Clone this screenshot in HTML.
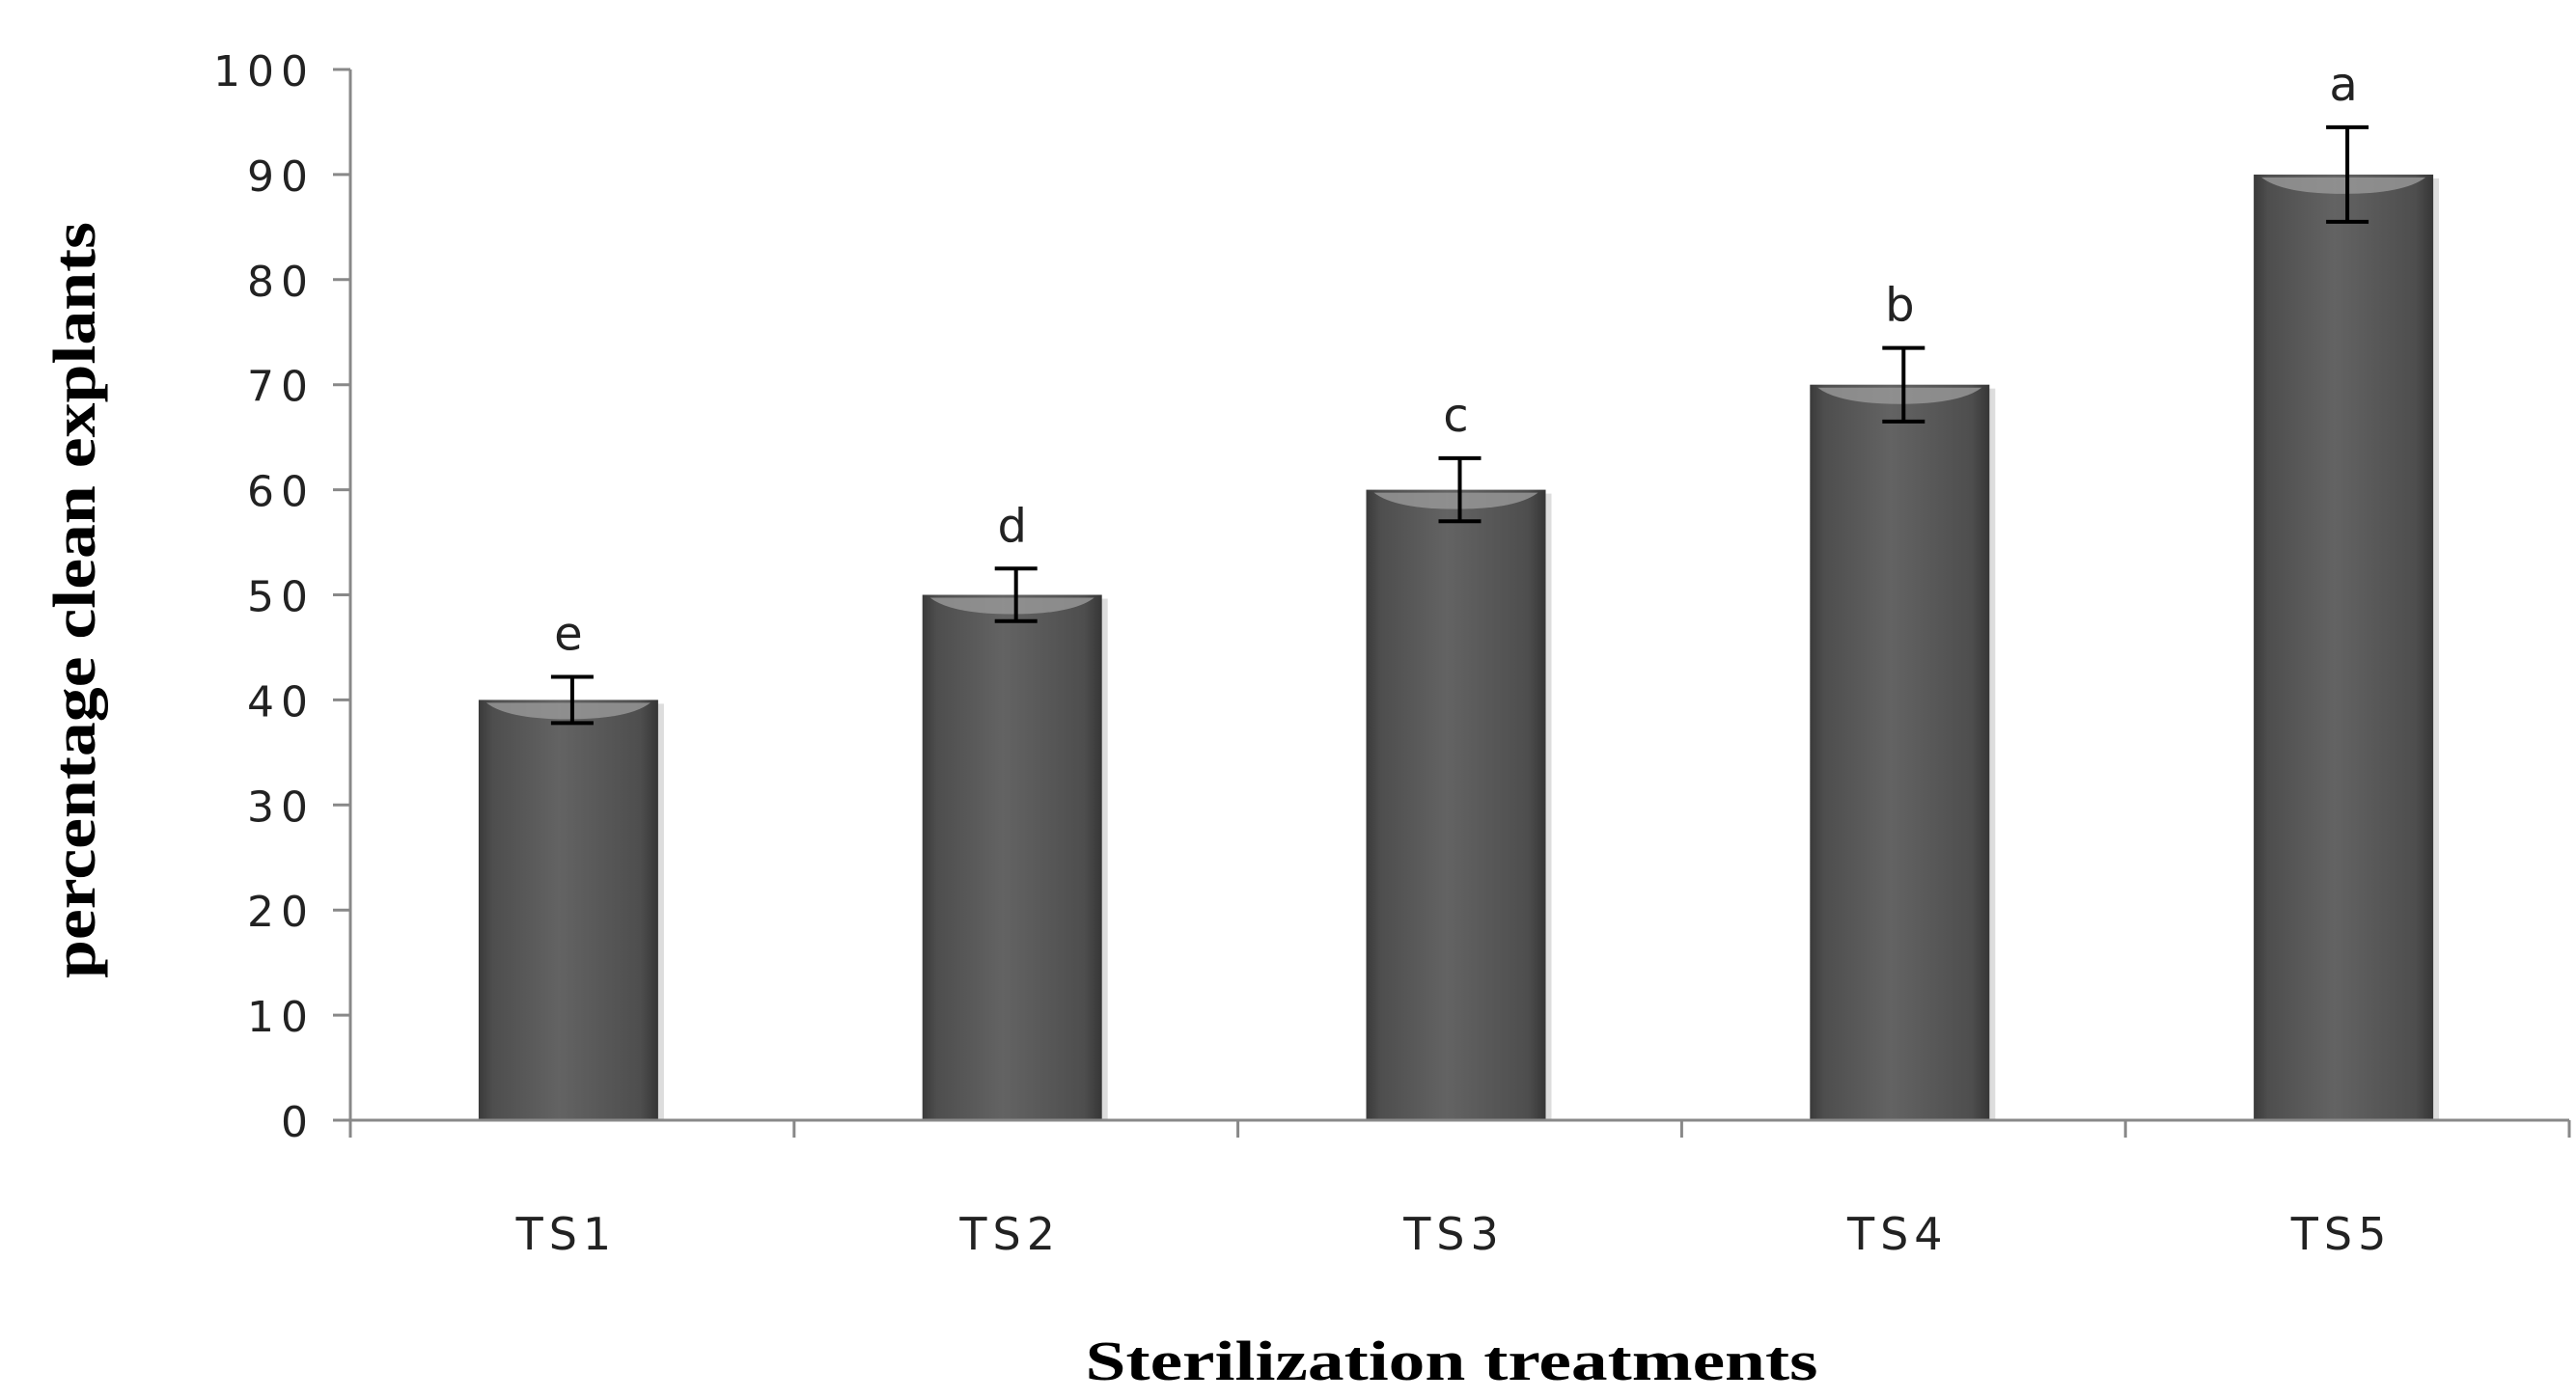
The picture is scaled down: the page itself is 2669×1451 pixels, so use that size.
<!DOCTYPE html>
<html><head><meta charset="utf-8"><style>
html,body{margin:0;padding:0;background:#fff;}
svg{display:block;}
</style></head><body>
<svg id="chart" width="2669" height="1451" viewBox="0 0 2669 1451" xmlns="http://www.w3.org/2000/svg">
<defs>
<linearGradient id="barGrad" x1="0" x2="1" y1="0" y2="0">
<stop offset="0" stop-color="#3a3a3a"/><stop offset="0.08" stop-color="#4e4e4e"/>
<stop offset="0.45" stop-color="#636363"/><stop offset="0.9" stop-color="#4e4e4e"/><stop offset="1" stop-color="#363636"/>
</linearGradient>
</defs>
<g id="plot"></g>
<text transform="translate(98,622) rotate(-90)" text-anchor="middle" font-family="Liberation Serif, serif" font-weight="bold" font-size="62" textLength="784" lengthAdjust="spacingAndGlyphs">percentage clean explants</text>
<text x="1504" y="1430" text-anchor="middle" font-family="Liberation Serif, serif" font-weight="bold" font-size="58" textLength="759" lengthAdjust="spacingAndGlyphs">Sterilization treatments</text>
</svg>
<script>
const categories = ["TS1","TS2","TS3","TS4","TS5"];
const values = [40,50,60,70,90];
const errors = [2.2,2.5,3,3.5,4.5];
const letters = ["e","d","c","b","a"];
const yTicks = [0,10,20,30,40,50,60,70,80,90,100];

const NS="http://www.w3.org/2000/svg";
const g=document.getElementById('plot');
const x0=363, x1=2662, y0=1161, yTop=72, yMax=100;
const catW=(x1-x0)/categories.length;
const y=v=>y0-(v/yMax)*(y0-yTop);
const xc=i=>x0+catW*(i+0.5);
function mk(tag,attrs){const e=document.createElementNS(NS,tag);for(const k in attrs)e.setAttribute(k,attrs[k]);g.appendChild(e);return e;}

yTicks.forEach(t=>{
  const tl=mk('line',{x1:x0-18,x2:x0,y1:y(t),y2:y(t),stroke:'#888','stroke-width':3});
  
  
  const tx=mk('text',{x:326,y:y(t)+17,'text-anchor':'end','font-family':'DejaVu Sans, sans-serif','font-size':44,'letter-spacing':'7',fill:'#222'});
  tx.textContent=t;
  
  
});
categories.forEach((c,i)=>{
  const v=values[i], bw=186, bx=xc(i)-bw/2-4, by=y(v);
  const sh=mk('rect',{x:bx+6,y:by+4,width:bw,height:y0-by-4,fill:'#ddd'});
  
  
  const b=mk('rect',{x:bx,y:by,width:bw,height:y0-by,fill:'url(#barGrad)'});
  
  
  const hl=mk('path',{d:`M${bx+8},${by+3} L${bx+bw-8},${by+3} Q${bx+bw-30},${by+20} ${bx+bw/2},${by+20} Q${bx+30},${by+20} ${bx+8},${by+3} Z`,fill:'#9a9a9a',opacity:0.8});
  
  
  const ex=xc(i), e=errors[i];
  const el=mk('path',{d:`M${ex},${y(v+e)} V${y(v-e)} M${ex-22},${y(v+e)} H${ex+22} M${ex-22},${y(v-e)} H${ex+22}`,stroke:'#000','stroke-width':4,fill:'none'});
  
  
  const lt=mk('text',{x:ex-4,y:y(v+e)-28,'text-anchor':'middle','font-family':'DejaVu Sans, sans-serif','font-size':48,fill:'#222'});
  lt.textContent=letters[i];
  
  
  const cl=mk('text',{x:xc(i)-6,y:1295,'text-anchor':'middle','font-family':'DejaVu Sans, sans-serif','font-size':46,'letter-spacing':'6',fill:'#222'});
  cl.textContent=c;
  
  
});
for(let i=0;i<=categories.length;i++){
  const xt=x0+catW*i;
  const t=mk('line',{x1:xt,x2:xt,y1:y0,y2:y0+18,stroke:'#888','stroke-width':3});
  
  
}
const ya=mk('line',{x1:x0,x2:x0,y1:yTop,y2:y0+18,stroke:'#888','stroke-width':3});


const xa=mk('line',{x1:x0-18,x2:x1,y1:y0,y2:y0,stroke:'#888','stroke-width':3});


</script>
</body></html>
